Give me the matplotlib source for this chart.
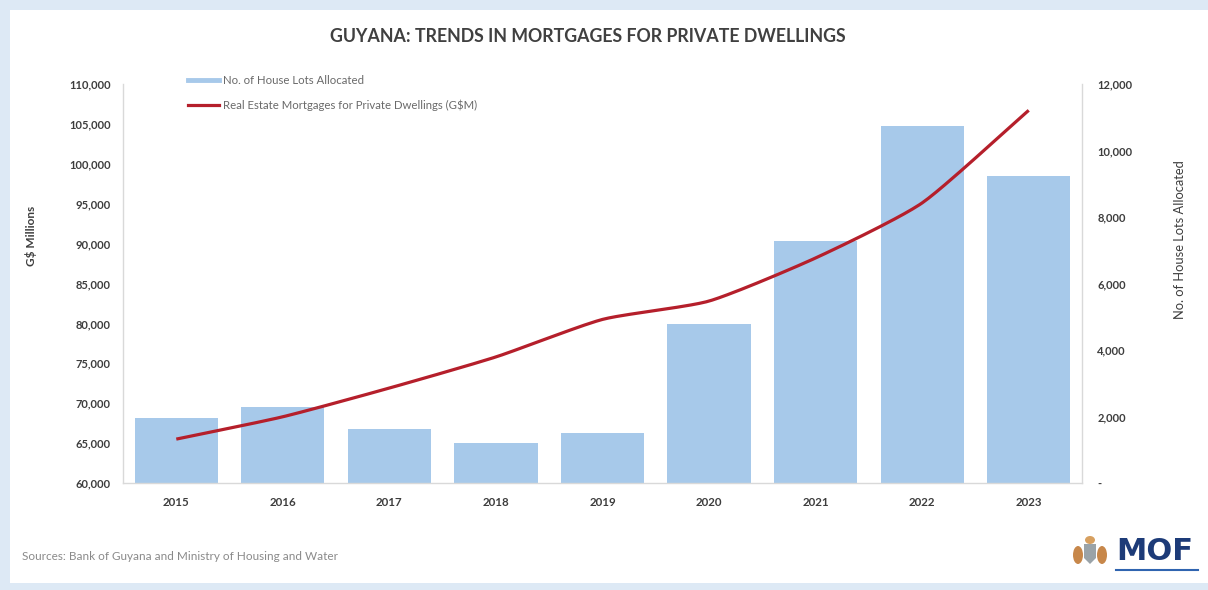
import numpy as np
import matplotlib
matplotlib.use("Agg")
import matplotlib.pyplot as plt
from matplotlib.lines import Line2D
from matplotlib.patches import Rectangle, Polygon, Ellipse
from matplotlib.ticker import FuncFormatter, MultipleLocator

plt.rcParams['font.family'] = ['Lato', 'DejaVu Sans']

# ---- data ----
years = ['2015', '2016', '2017', '2018', '2019', '2020', '2021', '2022', '2023']
house_lots = [1960, 2290, 1630, 1200, 1500, 4790, 7290, 10750, 9220]
mortgages_gsm = [65500, 68300, 71900, 75800, 80500, 82800, 88200, 95100, 106700]

title = 'GUYANA: TRENDS IN MORTGAGES FOR PRIVATE DWELLINGS'
bar_label = 'No. of House Lots Allocated'
line_label = 'Real Estate Mortgages for Private Dwellings (G$M)'
left_axis_label = 'G$ Millions'
right_axis_label = 'No. of House Lots Allocated'
source_note = 'Sources: Bank of Guyana and Ministry of Housing and Water'

BAR_COLOR = '#a7c9ea'
LINE_COLOR = '#b51f2b'
TEXT_DARK = '#3d3d3d'
TEXT_GREY = '#8a8a8a'
SPINE = '#d9d9d9'
FRAME_BLUE = '#dde9f5'


def smooth_through(x, y, tension=0.6, steps=24):
    """Cardinal-spline curve passing through every (x, y) point."""
    pts = np.column_stack([x, y]).astype(float)
    n = len(pts)
    tang = np.zeros_like(pts)
    for i in range(n):
        a = pts[max(i - 1, 0)]
        b = pts[min(i + 1, n - 1)]
        tang[i] = tension * (b - a) / (2 if 0 < i < n - 1 else 1)
    t = np.linspace(0, 1, steps, endpoint=False)[:, None]
    h00 = 2 * t ** 3 - 3 * t ** 2 + 1
    h10 = t ** 3 - 2 * t ** 2 + t
    h01 = -2 * t ** 3 + 3 * t ** 2
    h11 = t ** 3 - t ** 2
    out = []
    for i in range(n - 1):
        out.append(h00 * pts[i] + h10 * tang[i] + h01 * pts[i + 1] + h11 * tang[i + 1])
    out.append(pts[-1][None, :])
    out = np.vstack(out)
    return out[:, 0], out[:, 1]


fig = plt.figure(figsize=(12.08, 5.90), dpi=100)
W, H = 1208, 590

# light blue frame with white card behind everything
fig.patch.set_facecolor(FRAME_BLUE)
fig.patches.append(Rectangle((10 / W, 7 / H), 1 - 10 / W, 1 - 17 / H,
                             transform=fig.transFigure, facecolor='white',
                             edgecolor='none', zorder=-10))

ax = fig.add_axes([123 / W, 1 - 483 / H, (1082 - 123) / W, (483 - 84) / H])
ax.set_facecolor('none')
x = np.arange(len(years))

# line axis shares x; bars stay on the primary axes (drawn first, underneath)
ax2 = ax.twinx()

# bars: house lots on the right-hand scale
ax.bar(x, house_lots, width=0.78, color=BAR_COLOR, zorder=2)
ax.set_xlim(-0.5, len(years) - 0.5)
ax.set_ylim(0, 12000)
ax.yaxis.tick_right()
ax.yaxis.set_major_locator(MultipleLocator(2000))
ax.yaxis.set_major_formatter(FuncFormatter(lambda v, p: '-' if v == 0 else f'{v:,.0f}'))
ax.tick_params(axis='y', length=0, pad=11, labelsize=8, labelcolor=TEXT_DARK)
for lab in ax.get_yticklabels():
    lab.set_fontweight('bold')
ax.set_xticks(x)
ax.set_xticklabels(years, fontsize=8.3, fontweight='bold', color=TEXT_DARK)
ax.tick_params(axis='x', length=0, pad=10)
ax.spines['top'].set_visible(False)
for s in ['left', 'right', 'bottom']:
    ax.spines[s].set_color(SPINE)
    ax.spines[s].set_linewidth(1.0)

# line: mortgages on the left-hand scale
ax2.set_ylim(60000, 110000)
ax2.yaxis.tick_left()
ax2.yaxis.set_major_locator(MultipleLocator(5000))
ax2.yaxis.set_major_formatter(FuncFormatter(lambda v, p: f'{v:,.0f}'))
ax2.tick_params(axis='y', length=0, pad=9, labelsize=8, labelcolor=TEXT_DARK)
for lab in ax2.get_yticklabels():
    lab.set_fontweight('bold')
for s in ['top', 'left', 'right', 'bottom']:
    ax2.spines[s].set_visible(False)
sx, sy = smooth_through(x, mortgages_gsm)
ax2.plot(sx, sy, color=LINE_COLOR, lw=2.3, solid_capstyle='butt', zorder=3)

# legend
handles = [Line2D([0], [0], color=BAR_COLOR, lw=3.5),
           Line2D([0], [0], color=LINE_COLOR, lw=2.3)]
fig.legend(handles, [bar_label, line_label], loc='upper left',
           bbox_to_anchor=(188 / W, 1 - 75 / H), frameon=False,
           fontsize=8.2, labelcolor='#6a6a6a', handlelength=2.7,
           handletextpad=0.35, labelspacing=1.15, borderpad=0,
           borderaxespad=0)

# titles and axis labels
fig.text(588 / W, 1 - 37 / H, title, ha='center', va='center',
         fontsize=12.8, fontweight='bold', color='#404040')
fig.text(31 / W, 1 - 236 / H, left_axis_label, rotation=90, ha='center',
         va='center', fontsize=8.5, fontweight='bold', color=TEXT_DARK)
fig.text(1180 / W, 1 - 240 / H, right_axis_label, rotation=90, ha='center',
         va='center', fontsize=9.3, color=TEXT_DARK)
fig.text(22 / W, 1 - 557 / H, source_note, ha='left', va='center',
         fontsize=8.5, color=TEXT_GREY)

# ministry wordmark with a small emblem
fig.text(1116 / W, 1 - 552 / H, 'MOF', ha='left', va='center',
         fontsize=22, fontweight='bold', color='#1d3b78',
         family=['DejaVu Sans'])
fig.add_artist(Line2D([1116 / W, 1198 / W], [1 - 570 / H, 1 - 570 / H],
                      transform=fig.transFigure, color='#2f64b0', lw=1.5))
fig.patches.append(Polygon([(1084 / W, 1 - 544 / H), (1096 / W, 1 - 544 / H),
                            (1096 / W, 1 - 558 / H), (1090 / W, 1 - 564 / H),
                            (1084 / W, 1 - 558 / H)], closed=True,
                           transform=fig.transFigure, facecolor='#9aa3a8',
                           edgecolor='none', zorder=1))
for cx in (1078, 1102):
    fig.patches.append(Ellipse((cx / W, 1 - 555 / H), 10 / W, 18 / H,
                               transform=fig.transFigure, facecolor='#c7874a',
                               edgecolor='none', zorder=1))
fig.patches.append(Ellipse((1090 / W, 1 - 540 / H), 10 / W, 8 / H,
                           transform=fig.transFigure, facecolor='#d7a060',
                           edgecolor='none', zorder=1))

fig.savefig('out.png', dpi=100, facecolor=fig.get_facecolor())
